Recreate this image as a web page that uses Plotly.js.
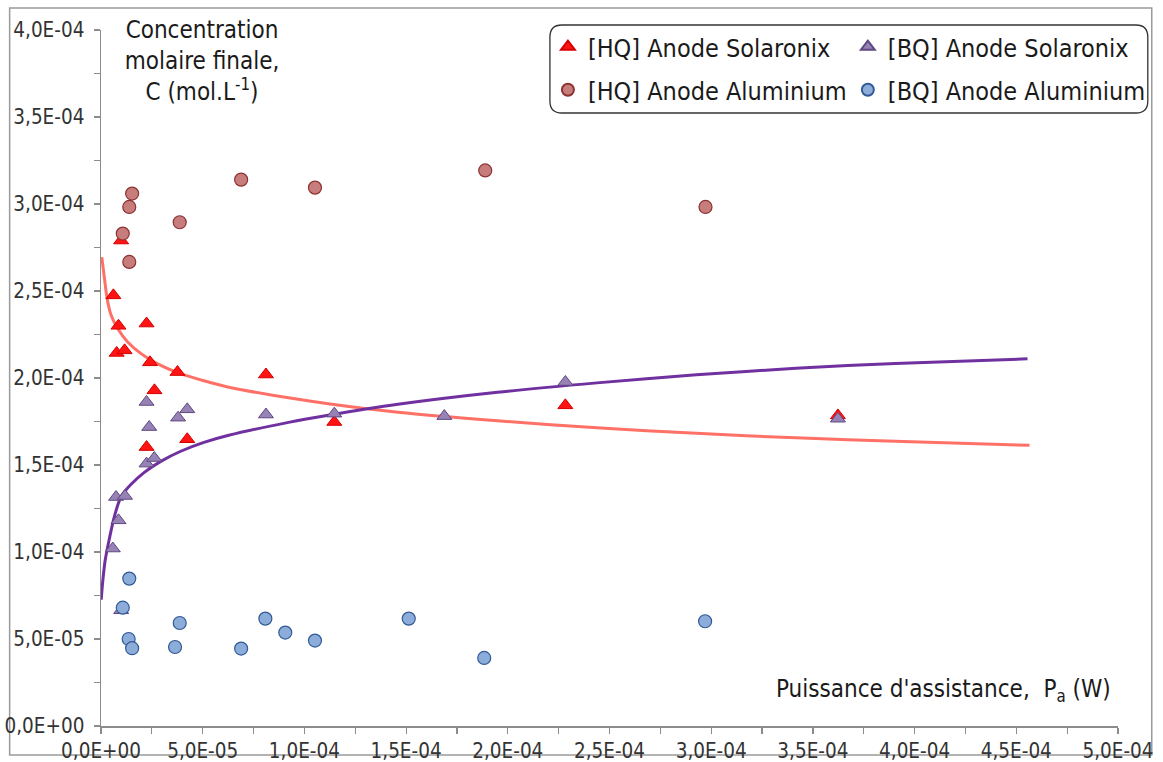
<!DOCTYPE html>
<html>
<head>
<meta charset="utf-8">
<script src="https://cdn.plot.ly/plotly-3.0.1.min.js"></script>
<style>html,body{margin:0;padding:0;background:#fff;}#chart{width:1163px;height:762px;}</style>
</head>
<body>
<div id="chart"></div>
<script>
// ---- data ----
var xTickVals = [0, 5e-5, 1e-4, 1.5e-4, 2e-4, 2.5e-4, 3e-4, 3.5e-4, 4e-4, 4.5e-4, 5e-4];
var xTickText = ['0,0E+00', '5,0E-05', '1,0E-04', '1,5E-04', '2,0E-04', '2,5E-04', '3,0E-04', '3,5E-04', '4,0E-04', '4,5E-04', '5,0E-04'];
var yTickVals = [0, 5e-5, 1e-4, 1.5e-4, 2e-4, 2.5e-4, 3e-4, 3.5e-4, 4e-4];
var yTickText = ['0,0E+00', '5,0E-05', '1,0E-04', '1,5E-04', '2,0E-04', '2,5E-04', '3,0E-04', '3,5E-04', '4,0E-04'];

var seriesNames = ['[HQ] Anode Solaronix', '[BQ] Anode Solaronix', '[HQ] Anode Aluminium', '[BQ] Anode Aluminium'];

var hqSolX = [6.1e-6, 9.9e-6, 8.6e-6, 7.7e-6, 1.16e-5, 2.24e-5, 2.41e-5, 2.63e-5, 2.24e-5, 3.76e-5, 4.24e-5, 8.11e-5, 1.147e-4, 2.283e-4, 3.623e-4];
var hqSolY = [2.475e-4, 2.79e-4, 2.30e-4, 2.144e-4, 2.159e-4, 2.313e-4, 2.09e-4, 1.929e-4, 1.603e-4, 2.034e-4, 1.648e-4, 2.02e-4, 1.747e-4, 1.843e-4, 1.785e-4];

var bqSolX = [2.24e-5, 4.24e-5, 3.79e-5, 2.37e-5, 2.24e-5, 2.62e-5, 7.4e-6, 1.18e-5, 8.6e-6, 5.8e-6, 9.9e-6, 8.11e-5, 1.147e-4, 1.688e-4, 2.283e-4, 3.623e-4];
var bqSolY = [1.862e-4, 1.82e-4, 1.772e-4, 1.718e-4, 1.508e-4, 1.54e-4, 1.316e-4, 1.322e-4, 1.182e-4, 1.02e-4, 0.665e-4, 1.79e-4, 1.795e-4, 1.781e-4, 1.977e-4, 1.766e-4];

var hqAlX = [1.53e-5, 1.39e-5, 1.07e-5, 1.39e-5, 3.87e-5, 6.89e-5, 1.052e-4, 1.889e-4, 2.972e-4];
var hqAlY = [3.06e-4, 2.983e-4, 2.83e-4, 2.667e-4, 2.895e-4, 3.14e-4, 3.094e-4, 3.193e-4, 2.983e-4];

var bqAlX = [1.39e-5, 1.07e-5, 1.36e-5, 1.53e-5, 3.64e-5, 3.87e-5, 6.89e-5, 8.08e-5, 9.06e-5, 1.052e-4, 1.513e-4, 1.884e-4, 2.97e-4];
var bqAlY = [0.847e-4, 0.68e-4, 0.50e-4, 0.447e-4, 0.454e-4, 0.592e-4, 0.445e-4, 0.617e-4, 0.537e-4, 0.491e-4, 0.617e-4, 0.391e-4, 0.602e-4];

// trend curves as drawn in the picture
var hqFitX = [3.9e-7, 1.71e-6, 3.03e-6, 4.99e-6, 8.2e-6, 1.31e-5, 1.97e-5, 2.94e-5, 3.92e-5, 5.06e-5, 6.28e-5, 9.22e-5, 1.117e-4, 1.46e-4, 1.949e-4, 2.438e-4, 2.927e-4, 3.416e-4, 3.905e-4, 4.565e-4];
var hqFitY = [2.695e-4, 2.571e-4, 2.456e-4, 2.36e-4, 2.284e-4, 2.207e-4, 2.14e-4, 2.073e-4, 2.025e-4, 1.984e-4, 1.947e-4, 1.886e-4, 1.852e-4, 1.803e-4, 1.754e-4, 1.714e-4, 1.682e-4, 1.656e-4, 1.636e-4, 1.613e-4];

var bqFitX = [1e-7, 8.8e-7, 2.05e-6, 4.16e-6, 6.6e-6, 9.9e-6, 1.48e-5, 2.13e-5, 2.94e-5, 3.92e-5, 5.06e-5, 6.28e-5, 9.22e-5, 1.117e-4, 1.46e-4, 1.949e-4, 2.438e-4, 2.927e-4, 3.416e-4, 3.905e-4, 4.555e-4];
var bqFitY = [0.726e-4, 0.834e-4, 0.952e-4, 1.079e-4, 1.205e-4, 1.319e-4, 1.389e-4, 1.458e-4, 1.521e-4, 1.579e-4, 1.63e-4, 1.671e-4, 1.745e-4, 1.786e-4, 1.849e-4, 1.918e-4, 1.972e-4, 2.018e-4, 2.056e-4, 2.084e-4, 2.11e-4];

// ---- chart ----
var FONT = '"DejaVu Sans Condensed", "DejaVu Sans", sans-serif';
var AXC = '#8c8c8c';

var traces = [
  {x: hqFitX, y: hqFitY, type: 'scatter', mode: 'lines', showlegend: false, hoverinfo: 'skip',
   line: {color: 'rgb(255,112,102)', width: 3, shape: 'spline', smoothing: 0.8}},
  {x: bqFitX, y: bqFitY, type: 'scatter', mode: 'lines', showlegend: false, hoverinfo: 'skip',
   line: {color: 'rgb(112,48,160)', width: 3, shape: 'spline', smoothing: 0.8}},
  {x: hqSolX, y: hqSolY, type: 'scatter', mode: 'markers', name: seriesNames[0], legend: 'legend',
   marker: {symbol: 'triangle-up', size: 13, color: 'rgb(255,20,20)', line: {color: 'rgb(215,0,0)', width: 1}}},
  {x: bqSolX, y: bqSolY, type: 'scatter', mode: 'markers', name: seriesNames[1], legend: 'legend2',
   marker: {symbol: 'triangle-up', size: 13, color: 'rgb(150,130,180)', line: {color: 'rgb(95,72,130)', width: 1}}},
  {x: hqAlX, y: hqAlY, type: 'scatter', mode: 'markers', name: seriesNames[2], legend: 'legend3',
   marker: {symbol: 'circle', size: 13, color: 'rgb(200,125,125)', line: {color: 'rgb(140,50,50)', width: 1.2}}},
  {x: bqAlX, y: bqAlY, type: 'scatter', mode: 'markers', name: seriesNames[3], legend: 'legend4',
   marker: {symbol: 'circle', size: 13, color: 'rgb(140,172,218)', line: {color: 'rgb(50,90,150)', width: 1.2}}}
];

function leg(x, y) {
  return {x: x, y: y, xanchor: 'left', yanchor: 'middle', bgcolor: 'rgba(0,0,0,0)', borderwidth: 0,
          font: {family: FONT, size: 25, color: '#1a1a1a'}, itemsizing: 'constant'};
}

var L = 101, R = 1125, T = 30, B = 726;
function px2x(p) { return (p - L) / (R - L); }
function py2y(p) { return (B - p) / (B - T); }

var bx0 = px2x(553), bx1 = px2x(1155), by0 = py2y(113), by1 = py2y(25);
var rx = 12 / (R - L), ry = 12 / (B - T);
var boxPath = 'M' + (bx0 + rx) + ',' + by1 + ' L' + (bx1 - rx) + ',' + by1 +
  ' Q' + bx1 + ',' + by1 + ' ' + bx1 + ',' + (by1 - ry) +
  ' L' + bx1 + ',' + (by0 + ry) + ' Q' + bx1 + ',' + by0 + ' ' + (bx1 - rx) + ',' + by0 +
  ' L' + (bx0 + rx) + ',' + by0 + ' Q' + bx0 + ',' + by0 + ' ' + bx0 + ',' + (by0 + ry) +
  ' L' + bx0 + ',' + (by1 - ry) + ' Q' + bx0 + ',' + by1 + ' ' + (bx0 + rx) + ',' + by1 + ' Z';

var axisCommon = {
  showgrid: false, zeroline: false, showline: true, linecolor: AXC, linewidth: 1.5,
  ticks: 'outside', ticklen: 6, tickwidth: 1.2, tickcolor: AXC,
  tickfont: {family: FONT, size: 20.5, color: '#333'},
  minor: {ticks: 'outside', ticklen: 6, tickwidth: 1.2, tickcolor: AXC, dtick: 2.5e-5, tick0: 0, showgrid: false},
  fixedrange: true
};

var layout = {
  width: 1163, height: 762,
  margin: {l: L, r: 1163 - R, t: T, b: 762 - B, pad: 0},
  paper_bgcolor: '#fff', plot_bgcolor: '#fff',
  showlegend: true,
  font: {family: FONT, color: '#1a1a1a'},
  title: {text: 'Concentration<br>molaire finale,<br>C (mol.L<sup>-1</sup>)', x: 202 / 1163, xanchor: 'center',
          xref: 'container', yref: 'container', y: 1 - 38 / 762, yanchor: 'top',
          font: {family: FONT, size: 24, color: '#1a1a1a'}},
  xaxis: Object.assign({}, axisCommon, {range: [0, 5e-4], tickmode: 'array', tickvals: xTickVals, ticktext: xTickText}),
  yaxis: Object.assign({}, axisCommon, {range: [0, 4e-4], tickmode: 'array', tickvals: yTickVals, ticktext: yTickText, ticklabelstandoff: 5}),
  legend: leg(px2x(551), py2y(47)),
  legend2: leg(px2x(853), py2y(47)),
  legend3: leg(px2x(551), py2y(90)),
  legend4: leg(px2x(853), py2y(90)),
  annotations: [{
    text: "Puissance d'assistance,  P<sub>a</sub> (W)", xref: 'paper', yref: 'paper',
    x: px2x(1120), y: py2y(690), xanchor: 'right', yanchor: 'middle', showarrow: false,
    font: {family: FONT, size: 24, color: '#1a1a1a'}
  }],
  shapes: [
    {type: 'rect', xref: 'paper', yref: 'paper', x0: px2x(9), x1: px2x(1159), y0: py2y(755), y1: py2y(8),
     line: {color: '#9a9a9a', width: 1.5}, fillcolor: 'rgba(0,0,0,0)', layer: 'below'},
    {type: 'path', xref: 'paper', yref: 'paper', path: boxPath, line: {color: '#333', width: 1.3},
     fillcolor: 'rgba(0,0,0,0)', layer: 'above'}
  ]
};

Plotly.newPlot('chart', traces, layout, {displayModeBar: false, staticPlot: true});
</script>
</body>
</html>
